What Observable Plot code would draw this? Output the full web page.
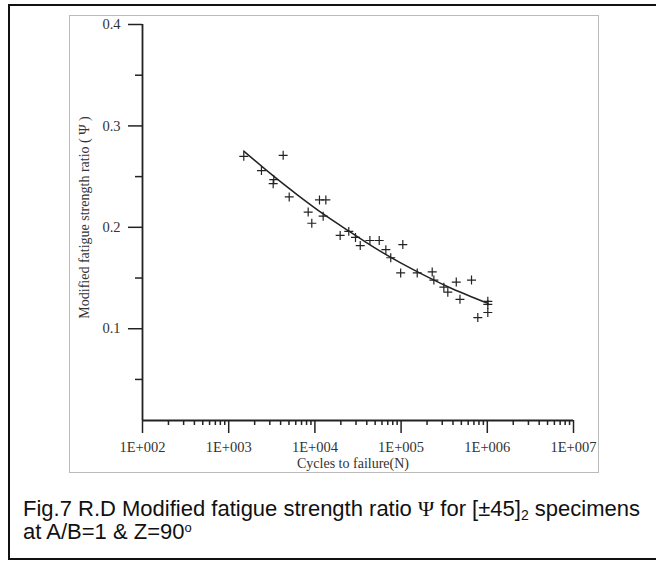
<!DOCTYPE html>
<html>
<head>
<meta charset="utf-8">
<script src="https://cdn.jsdelivr.net/npm/d3@7"></script>
<script src="https://cdn.jsdelivr.net/npm/@observablehq/plot@0.6"></script>
<style>
  html, body { margin: 0; padding: 0; background: #fff; }
  body { width: 656px; height: 561px; position: relative; overflow: hidden; }
  #outer { position: absolute; left: 8px; top: 4px; width: 680px; height: 556px; border: 2px solid #111; box-sizing: border-box; }
  #inner { position: absolute; left: 69px; top: 15px; width: 530px; height: 458px; border: 1px solid #bbb; box-sizing: border-box; }
  #chart { position: absolute; left: 0; top: 0; }
  #caption { position: absolute; left: 23px; top: 497px; font-family: "Liberation Sans", Arial, sans-serif; font-size: 22px; line-height: 23px; color: #111; white-space: nowrap; }
  #caption sub { font-size: 14px; vertical-align: -4px; line-height: 0; }
  #caption sup { font-size: 13px; vertical-align: 7px; line-height: 0; }
  .psi { font-family: "Liberation Serif", serif; }
</style>
</head>
<body>
<div id="outer"></div>
<div id="inner"></div>
<div id="chart"></div>
<div id="caption">Fig.7 R.D Modified fatigue strength ratio <span class="psi">Ψ</span> for [±45]<sub>2</sub> specimens<br>at A/B=1 &amp; Z=90<sup>o</sup></div>
<script>
// Test data: cycles to failure and modified fatigue strength ratio
const cycles = [1496, 4285, 2399, 3334, 3281, 5035, 8356, 9204, 11300, 13400, 12470,
  19630, 24720, 29580, 33570, 43450, 55720, 66530, 104700, 75860, 98850,
  153800, 229600, 239900, 313300, 348300, 436500, 481900, 656100, 776200,
  1014000, 1014000, 1014000];
const psi = [0.270, 0.271, 0.256, 0.247, 0.243, 0.230, 0.215, 0.204, 0.227, 0.227, 0.211,
  0.192, 0.196, 0.190, 0.182, 0.187, 0.187, 0.178, 0.183, 0.170, 0.155,
  0.155, 0.156, 0.148, 0.141, 0.136, 0.146, 0.129, 0.148, 0.111,
  0.127, 0.124, 0.116];

// Fitted curve
const fitCycles = [1496, 3162, 6310, 12590, 25120, 50120, 100000, 199500, 398100, 1014000];
const fitPsi = [0.2752, 0.2519, 0.2318, 0.2130, 0.1960, 0.1795, 0.1647, 0.1513, 0.1392, 0.1250];

// Axis ticks
const majorX = [1e2, 1e3, 1e4, 1e5, 1e6, 1e7];
const minorX = [];
for (let d = 2; d <= 6; d++) for (let k = 2; k <= 9; k++) minorX.push(k * Math.pow(10, d));
const majorY = [0.1, 0.2, 0.3, 0.4];
const minorY = [0.05, 0.15, 0.25, 0.35];
const xLabel = "Cycles to failure(N)";
const yLabel = "Modified fatigue strength ratio ( Ψ )";

const points = cycles.map((n, i) => ({n, v: psi[i]}));
const fit = fitCycles.map((n, i) => ({n, v: fitPsi[i]}));

const yMin = 0.0095;
const ink = "#222";

const chart = Plot.plot({
  width: 656,
  height: 480,
  marginLeft: 142,
  marginRight: 83,
  marginTop: 24,
  marginBottom: 60,
  style: {fontFamily: "'Liberation Serif', 'Times New Roman', serif", fontSize: "14.5px", color: "#333", background: "transparent"},
  x: {type: "log", domain: [1e2, 1e7]},
  y: {domain: [yMin, 0.4]},
  marks: [
    Plot.axisX(minorX, {tickSize: 5, tickFormat: () => "", label: null, stroke: ink, strokeWidth: 1.5}),
    Plot.axisX(majorX, {tickSize: 13, tickPadding: 8, label: null, stroke: ink, strokeWidth: 1.5, fill: "#333",
      tickFormat: d => "1E+" + String(Math.round(Math.log10(d))).padStart(3, "0")}),
    Plot.axisY(minorY, {tickSize: 7, tickFormat: () => "", label: null, stroke: ink, strokeWidth: 1.5}),
    Plot.axisY(majorY, {tickSize: 14, tickPadding: 8, label: null, stroke: ink, strokeWidth: 1.5, fill: "#333",
      tickFormat: d3.format(".1f")}),
    Plot.ruleY([yMin], {stroke: ink, strokeWidth: 1.8}),
    Plot.ruleX([1e2], {stroke: ink, strokeWidth: 1.8}),
    Plot.line(fit, {x: "n", y: "v", curve: "natural", stroke: ink, strokeWidth: 1.5}),
    Plot.dot(points, {x: "n", y: "v", symbol: "plus", r: 3, stroke: ink, strokeWidth: 1.2}),
    Plot.text([xLabel], {text: d => d, frameAnchor: "bottom", dx: -5, dy: 47, fill: "#333", fontSize: 14}),
    Plot.text([yLabel], {text: d => d, frameAnchor: "left", textAnchor: "middle", dx: -58, dy: -5, rotate: -90, fill: "#333", fontSize: 14})
  ]
});
document.getElementById("chart").appendChild(chart);
</script>
</body>
</html>
